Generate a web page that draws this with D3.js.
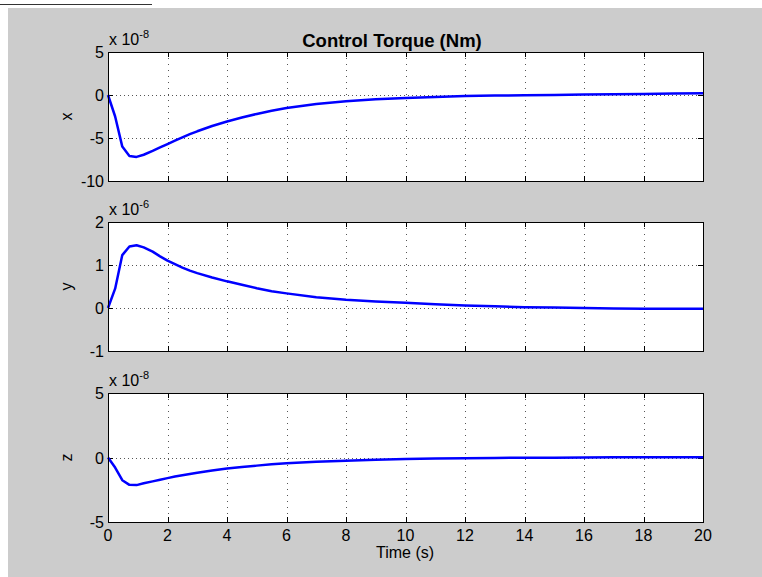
<!DOCTYPE html>
<html><head><meta charset="utf-8">
<script src="https://cdn.jsdelivr.net/npm/d3@7"></script>
<style>body{margin:0;background:#fff}svg{display:block}text{font-family:"Liberation Sans",Arial,sans-serif}</style>
</head><body>
<svg id="c" width="762" height="577"></svg>
<script>
const time    = [0,0.24,0.48,0.72,0.96,1.2,1.5,1.75,2,2.25,2.5,2.75,3,3.5,4,4.5,5,5.5,6,7,8,9,10,11,12,13,14,15,16,17,18,19,20];
const torqueX = [0,-2.5,-6.0,-7.1,-7.2,-6.95,-6.5,-6.1,-5.7,-5.3,-4.92,-4.56,-4.22,-3.6,-3.08,-2.62,-2.2,-1.83,-1.52,-1.05,-0.72,-0.5,-0.34,-0.22,-0.13,-0.07,-0.03,0.0,0.05,0.1,0.13,0.16,0.2];
const torqueY = [0,0.45,1.23,1.43,1.46,1.41,1.31,1.2,1.1,1.02,0.94,0.87,0.81,0.71,0.62,0.54,0.46,0.39,0.34,0.25,0.19,0.15,0.12,0.085,0.06,0.04,0.02,0.01,0.0,-0.01,-0.015,-0.02,-0.02];
const torqueZ = [0,-0.78,-1.76,-2.12,-2.14,-2.0,-1.85,-1.72,-1.6,-1.48,-1.38,-1.28,-1.19,-1.01,-0.86,-0.74,-0.63,-0.53,-0.45,-0.33,-0.25,-0.18,-0.12,-0.08,-0.05,-0.03,-0.02,-0.01,0,0.01,0.01,0.015,0.02];
const xTicks = [0,2,4,6,8,10,12,14,16,18,20];
const panels = [
  {label:"x", values:torqueX, domain:[-10,5], ticks:[-10,-5,0,5], exp:"-8", top:52, bottom:181},
  {label:"y", values:torqueY, domain:[-1,2], ticks:[-1,0,1,2], exp:"-6", top:222, bottom:351},
  {label:"z", values:torqueZ, domain:[-5,5], ticks:[-5,0,5], exp:"-8", top:393, bottom:522}
];
const title = "Control Torque (Nm)";
const xLabel = "Time (s)";

const svg = d3.select("#c");
svg.append("rect").attr("x",8).attr("y",8).attr("width",754).attr("height",569).attr("fill","#cccccc");
svg.append("line").attr("x1",0).attr("x2",152).attr("y1",4.5).attr("y2",4.5).attr("stroke","#333").attr("stroke-width",1);

const L = 108, R = 703;
const FS = 16;
const x = d3.scaleLinear().domain([0,20]).range([L,R]);
const line = d3.line();

panels.forEach((p,i)=>{
  const y = d3.scaleLinear().domain(p.domain).range([p.bottom,p.top]);
  const g = svg.append("g");
  g.append("rect").attr("x",L).attr("y",p.top).attr("width",R-L).attr("height",p.bottom-p.top).attr("fill","#fff");
  g.selectAll(".gx").data(xTicks.slice(1,-1)).enter().append("line")
    .attr("x1",d=>Math.round(x(d))+0.5).attr("x2",d=>Math.round(x(d))+0.5)
    .attr("y1",p.top).attr("y2",p.bottom)
    .attr("stroke","#555").attr("stroke-width",1).attr("stroke-dasharray","1,5");
  g.selectAll(".gy").data(p.ticks.slice(1,-1)).enter().append("line")
    .attr("y1",d=>Math.round(y(d))+0.5).attr("y2",d=>Math.round(y(d))+0.5)
    .attr("x1",L).attr("x2",R)
    .attr("stroke","#555").attr("stroke-width",1).attr("stroke-dasharray","1,3");
  const tl = 5;
  xTicks.forEach(t=>{
    const xx = Math.round(x(t))+0.5;
    g.append("line").attr("x1",xx).attr("x2",xx).attr("y1",p.bottom).attr("y2",p.bottom-tl).attr("stroke","#000");
    g.append("line").attr("x1",xx).attr("x2",xx).attr("y1",p.top).attr("y2",p.top+tl).attr("stroke","#000");
  });
  p.ticks.forEach(t=>{
    const yy = Math.round(y(t))+0.5;
    g.append("line").attr("x1",L).attr("x2",L+tl).attr("y1",yy).attr("y2",yy).attr("stroke","#000");
    g.append("line").attr("x1",R).attr("x2",R-tl).attr("y1",yy).attr("y2",yy).attr("stroke","#000");
    g.append("text").attr("x",L-4).attr("y",y(t)+6).attr("text-anchor","end").attr("font-size",FS).attr("fill","#000").text(t);
  });
  g.append("path").datum(p.values.map((v,k)=>[x(time[k]),y(v)]))
    .attr("d", line)
    .attr("fill","none").attr("stroke","#0000ff").attr("stroke-width",2.5).attr("stroke-linejoin","round");
  g.append("rect").attr("x",L+0.5).attr("y",p.top+0.5).attr("width",R-L).attr("height",p.bottom-p.top)
    .attr("fill","none").attr("stroke","#000").attr("stroke-width",1);
  const ex = g.append("text").attr("x",L+1).attr("y",p.top-7).attr("font-size",FS).attr("fill","#000");
  ex.append("tspan").text("x 10");
  ex.append("tspan").attr("dy",-7).attr("font-size",11).text(p.exp);
  g.append("text").attr("transform",`translate(${L-36},${(p.top+p.bottom)/2}) rotate(-90)`)
    .attr("text-anchor","middle").attr("font-size",FS).attr("fill","#000").text(p.label);
});

svg.selectAll(".xt").data(xTicks).enter().append("text")
  .attr("x",d=>x(d)).attr("y",541).attr("text-anchor","middle").attr("font-size",FS).attr("fill","#000").text(d=>d);
svg.append("text").attr("x",405).attr("y",558).attr("text-anchor","middle").attr("font-size",FS).attr("fill","#000").text(xLabel);
svg.append("text").attr("x",392).attr("y",47).attr("text-anchor","middle").attr("font-size",18.5).attr("font-weight","bold").attr("fill","#000").text(title);
</script>
</body></html>
